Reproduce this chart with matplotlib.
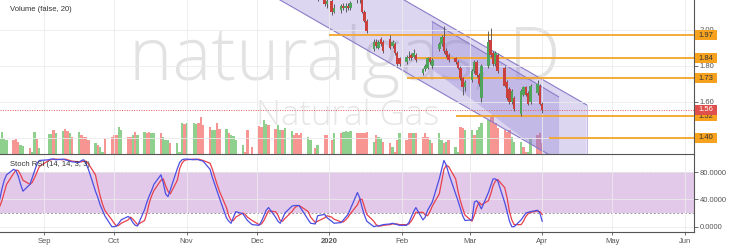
import numpy as np
import pandas as pd
import matplotlib
matplotlib.use('Agg')
import matplotlib.pyplot as plt
import matplotlib.dates as mdates
from matplotlib.patches import Rectangle

# trading days, Aug 13 2019 - Apr 1 2020
holidays = pd.to_datetime(['2019-09-02', '2019-11-28', '2019-12-25', '2020-01-01'])
days = pd.bdate_range('2019-08-13', '2020-04-01')
days = days[~days.isin(holidays)]

# volume (x10k contracts) and up/down colour of each day
volume = [15, 22, 15, 14, 14, 15, 12, 9, 8, 6,
          2, 22, 15, 6, 20, 20, 24, 21, 23, 25,
          23, 21, 17, 22, 19, 17, 17, 14, 11, 9,
          7, 2, 16, 17, 19, 19, 27, 24, 17, 17,
          19, 22, 19, 22, 21, 22, 21, 21, 21, 17,
          14, 14, 11, 11, 2, 31, 30, 31, 31, 30,
          31, 37, 29, 27, 24, 24, 31, 25, 25, 21,
          19, 18, 14, 9, 2, 24, 7, 28, 27, 34,
          30, 29, 25, 29, 24, 24, 26, 23, 19, 21,
          19, 21, 17, 14, 6, 9, 19, 19, 14, 21,
          21, 22, 23, 22, 23, 21, 21, 21, 21, 22,
          12, 19, 17, 16, 12, 11, 7, 2, 14, 21,
          14, 21, 21, 21, 21, 17, 21, 17, 14, 11,
          21, 14, 11, 12, 14, 7, 2, 27, 26, 24,
          24, 19, 24, 27, 31, 34, 37, 39, 31, 26,
          24, 22, 24, 17, 12, 12, 7, 2, 2, 16,
          19, 21, 11]
vol_dir = ("ggggrrrggr" "ggrgggrggr" "rgrgrrrrgr" "ggrrrrggrr"
           "grggrrggrg" "ggrgggrggg" "rrrrggrrgr" "ggggrrrrrg"
           "grrggrggrr" "rrggrgrrrg" "rggggrrrrr" "grggrrgrrg"
           "rrrgrrrrgr" "ggrgrggrrg" "grggggrrrr" "rrrgggrrgg" "rrr")

# Stoch RSI %K (blue) and %D (red)
stoch_k = [39, 55, 68, 76, 84, 82, 74, 62, 52, 62, 72, 82, 92, 97,
           98, 99, 99, 98, 99, 98, 97, 96, 95, 94, 97, 98, 92, 84, 52, 43, 32, 24, 16, 0,
           0, 1, 5, 10, 15, 12, 6, 2, 1, 25, 36, 45, 53, 62, 76, 64, 48, 44, 54, 85, 94, 98, 99,
           99, 98, 99, 98, 97, 96, 84, 72, 62, 52, 42, 13, 8, 5, 14, 22, 19, 14, 9, 3,
           2, 8, 16, 24, 28, 14, 8, 5, 12, 20, 30, 31, 31, 31, 26, 10, 5, 4, 16, 18, 13,
           8, 5, 6, 10, 14, 18, 26, 50, 42, 28, 17, 8, 0, 1, 1, 2, 3, 4, 5, 4, 3, 2,
           2, 6, 14, 22, 28, 10, 14, 24, 30, 36, 70, 84, 97, 90, 78, 48, 38, 27, 16, 9,
           10, 36, 38, 33, 26, 50, 60, 70, 70, 67, 35, 22, 8, 0, 0, 10, 15, 20, 21, 22, 24, 20,
           8]
stoch_d = [29, 38, 50, 62, 78, 83, 82, 76, 68, 62, 65, 72, 80, 88,
           97, 98, 99, 99, 98, 99, 98, 97, 96, 95, 95, 96, 96, 92, 76, 60, 45, 33, 24, 10,
           5, 1, 2, 5, 10, 14, 11, 7, 3, 9, 20, 35, 45, 53, 68, 70, 60, 52, 48, 68, 85, 93, 97,
           98, 99, 98, 99, 98, 97, 93, 84, 73, 62, 52, 28, 16, 9, 9, 14, 20, 18, 14, 9,
           3, 4, 9, 16, 23, 22, 17, 9, 8, 12, 22, 27, 30, 31, 29, 22, 14, 6, 8, 13, 16,
           14, 11, 7, 7, 10, 14, 19, 32, 40, 40, 29, 18, 8, 3, 1, 1, 2, 3, 4, 4, 4, 3,
           3, 4, 8, 14, 21, 21, 17, 16, 22, 30, 48, 66, 84, 90, 88, 70, 52, 38, 27, 17,
           8, 17, 28, 36, 32, 38, 48, 60, 67, 69, 57, 42, 22, 10, 3, 3, 8, 15, 19, 21, 23, 22,
           18]

# daily candles from Dec 23 2019
candle_start = '2019-12-23'
opens = [2.24, 2.22, 2.20, 2.22, 2.19, 2.14,
         2.16, 2.10, 2.11, 2.13, 2.12, 2.13, 2.12, 2.17, 2.19, 2.17, 2.10, 2.05,
         1.89, 1.93, 1.90, 1.95, 1.93, 1.95, 1.91, 1.92, 1.87, 1.84,
         1.82, 1.85, 1.86, 1.85, 1.86, 1.76, 1.78, 1.79, 1.84, 1.80,
         1.89, 1.92, 1.96, 1.88, 1.86, 1.84, 1.82, 1.79, 1.73, 1.68,
         1.72, 1.77, 1.82, 1.75, 1.62, 1.80, 1.94, 1.87, 1.81, 1.86,
         1.79, 1.71, 1.67, 1.60, 1.62, 1.53, 1.64, 1.68, 1.65, 1.60, 1.65, 1.69,
         1.59]
highs = [2.27, 2.25, 2.24, 2.24, 2.20, 2.18,
         2.18, 2.14, 2.14, 2.15, 2.15, 2.15, 2.16, 2.20, 2.21, 2.18, 2.11, 2.06,
         1.95, 1.95, 1.94, 1.96, 1.94, 1.97, 1.94, 1.93, 1.88, 1.85,
         1.86, 1.88, 1.87, 1.89, 1.87, 1.79, 1.81, 1.85, 1.85, 1.84,
         1.93, 1.97, 2.02, 1.90, 1.87, 1.85, 1.83, 1.80, 1.74, 1.72,
         1.78, 1.83, 1.83, 1.76, 1.81, 1.99, 2.01, 1.88, 1.88, 1.87,
         1.80, 1.72, 1.68, 1.67, 1.63, 1.67, 1.69, 1.69, 1.66, 1.70, 1.72, 1.70,
         1.60]
lows = [2.20, 2.18, 2.17, 2.16, 2.13, 2.12,
        2.08, 2.09, 2.09, 2.11, 2.10, 2.11, 2.11, 2.15, 2.15, 2.09, 2.04, 1.98,
        1.88, 1.90, 1.89, 1.91, 1.87, 1.89, 1.90, 1.86, 1.80, 1.80,
        1.81, 1.83, 1.83, 1.84, 1.82, 1.75, 1.77, 1.78, 1.81, 1.79,
        1.88, 1.91, 1.87, 1.85, 1.82, 1.81, 1.78, 1.72, 1.64, 1.66,
        1.71, 1.76, 1.74, 1.69, 1.60, 1.79, 1.85, 1.80, 1.80, 1.76,
        1.68, 1.61, 1.59, 1.59, 1.55, 1.52, 1.63, 1.63, 1.58, 1.59, 1.64, 1.58,
        1.54]
closes = [2.22, 2.20, 2.22, 2.17, 2.14, 2.16,
          2.10, 2.12, 2.13, 2.12, 2.13, 2.12, 2.15, 2.19, 2.17, 2.10, 2.05, 1.99,
          1.93, 1.91, 1.93, 1.92, 1.88, 1.90, 1.93, 1.87, 1.81, 1.81,
          1.85, 1.84, 1.84, 1.87, 1.83, 1.78, 1.80, 1.84, 1.82, 1.83,
          1.92, 1.96, 1.88, 1.86, 1.83, 1.82, 1.79, 1.73, 1.68, 1.71,
          1.77, 1.82, 1.75, 1.70, 1.80, 1.93, 1.86, 1.81, 1.87, 1.77,
          1.69, 1.62, 1.60, 1.66, 1.56, 1.66, 1.68, 1.64, 1.59, 1.69, 1.70, 1.59,
          1.555]

# horizontal support / resistance lines
levels = [1.97, 1.84, 1.73, 1.52, 1.40]
level_labels = ['1.97', '1.84', '1.73', '1.52', '1.40']
level_start = ['2020-01-01', '2020-02-07', '2020-02-03', '2020-02-24', '2020-04-04']
last_price = 1.555
last_label = '1.56'

# drawn channels
big_chan_dates = ['2019-12-01', '2020-04-20']
big_chan_upper = [2.633, 1.583]
big_chan_lower = [2.238, 1.188]
small_chan_dates = ['2020-02-14', '2020-04-08']
small_chan_upper = [2.044, 1.628]
small_chan_lower = [1.78, 1.25]

month_ticks = pd.date_range('2019-09-01', '2020-06-01', freq='MS')
month_labels = ['Sep', 'Oct', 'Nov', 'Dec', '2020', 'Feb', 'Mar', 'Apr', 'May', 'Jun']

W, H = 730, 247
fig = plt.figure(figsize=(W / 100, H / 100), dpi=100)
fig.patch.set_facecolor('white')
plt.rcParams['font.family'] = ['Liberation Sans', 'DejaVu Sans']

rect_main = [0, 1 - 154 / H, 694 / W, 154 / H]
ax_vol = fig.add_axes(rect_main)
ax = fig.add_axes(rect_main)
ax_st = fig.add_axes([0, 1 - 232 / H, 694 / W, 77 / H])
ax_vol.set_zorder(0)
ax.set_zorder(1)
ax.patch.set_visible(False)

sep1 = mdates.date2num(pd.Timestamp('2019-09-01'))
xlim = (sep1 - 18.81, sep1 + 277.9)
ylim = (1.311, 2.164)
x = mdates.date2num(days)
mt = mdates.date2num(month_ticks)
grid_c = '#ebebeb'
axis_c = '#555555'
txt_c = '#555555'

# watermark + volume (bottom layer)
ax_vol.set_xlim(xlim)
ax_vol.set_ylim(0, 154)
ax_vol.set_axis_off()
ax_vol.text(129 / 694, 74 / 154, 'naturalgas, D', transform=ax_vol.transAxes,
            fontsize=53, color='#e2e2e2', family='Open Sans', fontweight='light',
            ha='left', va='baseline', zorder=0)
ax_vol.text(256 / 694, 29 / 154, 'Natural Gas', transform=ax_vol.transAxes,
            fontsize=25, color='#e6e6e6', family='Open Sans', fontweight='light',
            ha='left', va='baseline', zorder=0)
vcols = ['#8fd08f' if c == 'g' else '#f69592' for c in vol_dir]
ax_vol.bar(x, volume, width=1.0, color=vcols, zorder=2)

# price panel
ax.set_xlim(xlim)
ax.set_ylim(ylim)
for s in ['top', 'left']:
    ax.spines[s].set_visible(False)
for s in ['right', 'bottom']:
    ax.spines[s].set_color(axis_c)
    ax.spines[s].set_linewidth(0.8)
ax.set_xticks(mt)
ax.tick_params(axis='x', length=0, labelbottom=False)
ax.yaxis.tick_right()
ax.set_yticks([1.4, 1.6, 1.8, 2.0])
ax.set_yticklabels(['%.2f' % v for v in [1.4, 1.6, 1.8, 2.0]])
ax.tick_params(axis='y', length=3, width=0.6, color=axis_c, labelsize=5.5,
               labelcolor=txt_c, pad=1)
ax.grid(True, color=grid_c, lw=0.6, zorder=0)

# channels
bd = mdates.date2num(pd.to_datetime(big_chan_dates))
ax.fill_between(bd, big_chan_lower, big_chan_upper, color='#8c78d2', alpha=0.3,
                lw=0, zorder=1)
ax.plot(bd, big_chan_upper, color='#8a7cc8', lw=0.8, zorder=1)
ax.plot(bd, big_chan_lower, color='#8a7cc8', lw=0.8, zorder=1)
ax.plot([bd[1], bd[1]], [big_chan_lower[1], big_chan_upper[1]], color='#b9b0e0', lw=0.6, zorder=1)
sd = mdates.date2num(pd.to_datetime(small_chan_dates))
ax.fill_between(sd, small_chan_lower, small_chan_upper, color='#8c78d2', alpha=0.3,
                lw=0, zorder=1)
ax.plot(sd, small_chan_upper, color='#8a7cc8', lw=0.8, zorder=1)
ax.plot([sd[0], sd[0]], [small_chan_lower[0], small_chan_upper[0]], color='#9d90d4', lw=0.6, zorder=1)

# levels
for lv, st in zip(levels, level_start):
    ax.plot([mdates.date2num(pd.Timestamp(st)), xlim[1]], [lv, lv], color='#f5a52a',
            lw=1.3, zorder=3, solid_capstyle='butt')
ax.axhline(last_price, color='#e05a5a', lw=0.7, ls=(0, (1, 1.5)), zorder=3)

# candles
cx = mdates.date2num(days[days >= pd.Timestamp(candle_start)])
o = np.array(opens)
c = np.array(closes)
up = c >= o
ccol = np.where(up, '#4fa45c', '#c9403d')
ax.vlines(cx, lows, highs, color='#4a4a4a', lw=0.6, zorder=4)
body = np.maximum(np.abs(c - o), 0.004)
ax.bar(cx, body, bottom=np.minimum(o, c), width=1.1, color=ccol, lw=0, zorder=5)

# right-axis price labels (boxes 22 px wide, 10 px tall)
box_w = 22 / 694
box_h = 10 / 154 * (ylim[1] - ylim[0])
ytr = ax.get_yaxis_transform()


def price_tag(val, lab, face, tcol, z):
    ax.add_patch(Rectangle((1.0 + 1 / 694, val - box_h / 2), box_w, box_h,
                           transform=ytr, fc=face, ec='none', clip_on=False, zorder=z))
    ax.text(1.0 + 1 / 694 + box_w / 2, val, lab, transform=ytr, ha='center',
            va='center', fontsize=5.5, color=tcol, clip_on=False, zorder=z + 0.5)


for lv, lab in zip(levels, level_labels):
    price_tag(lv, lab, '#f7a21f', '#333333', 6)
price_tag(last_price, last_label, '#df4f4c', 'white', 7)

ax.text(10 / 694, 1 - 9 / 154, 'Volume (false, 20)', transform=ax.transAxes,
        fontsize=5.5, color='#333333', ha='left', va='center', zorder=8)

# Stoch RSI panel
ax_st.set_xlim(xlim)
ax_st.set_ylim(-7.8, 105)
ax_st.axhspan(20, 80, color='#e3c9e9', lw=0, zorder=0)
ax_st.axhline(20, color='#999999', lw=0.7, ls=(0, (2, 2)), zorder=1)
ax_st.axhline(80, color='#999999', lw=0.7, ls=(0, (2, 2)), zorder=1)
ax_st.plot(x, stoch_d, color='#e8404a', lw=0.9, zorder=3)
ax_st.plot(x, stoch_k, color='#4b4ee3', lw=0.9, zorder=4)
for s in ['top', 'left']:
    ax_st.spines[s].set_visible(False)
for s in ['right', 'bottom']:
    ax_st.spines[s].set_color(axis_c)
    ax_st.spines[s].set_linewidth(0.8)
ax_st.yaxis.tick_right()
ax_st.set_yticks([0, 40, 80])
ax_st.set_yticklabels(['0.0000', '40.0000', '80.0000'])
ax_st.tick_params(axis='y', length=3, width=0.6, color=axis_c, labelsize=5.5,
                  labelcolor=txt_c, pad=1)
ax_st.set_xticks(mt)
ax_st.set_xticklabels(month_labels)
ax_st.tick_params(axis='x', length=2, width=0.6, color=axis_c, labelsize=5.5,
                  labelcolor=txt_c, pad=2)
ax_st.get_xticklabels()[4].set_fontweight('bold')
ax_st.grid(True, color=grid_c, lw=0.6, zorder=0)
ax_st.text(10 / 694, 1 - 10 / 77, 'Stoch RSI (14, 14, 3, 3)', transform=ax_st.transAxes,
           fontsize=5.5, color='#333333', ha='left', va='center', zorder=8)

fig.savefig('out.png', dpi=100)
